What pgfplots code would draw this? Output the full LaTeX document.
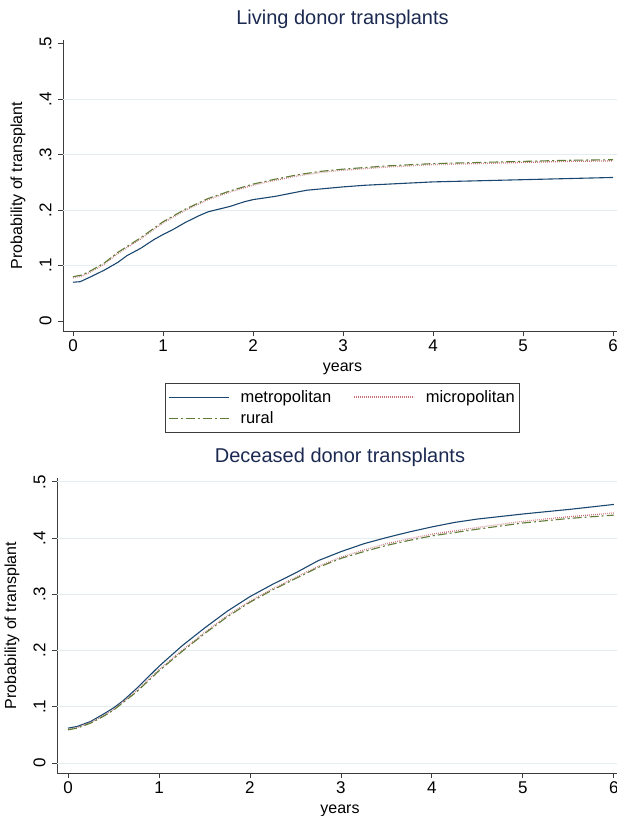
\documentclass[border=0pt]{standalone}
\usepackage{pgfplots}
\pgfplotsset{compat=1.18}
\usepackage{fontspec}
\setmainfont{Liberation Sans}
\definecolor{snavy}{RGB}{26,71,111}
\definecolor{smaroon}{RGB}{200,110,120}
\definecolor{sgreen}{RGB}{95,125,55}
\definecolor{stitle}{RGB}{28,42,82}
\definecolor{sgrid}{RGB}{228,238,241}
\definecolor{saxis}{RGB}{60,60,60}
\pgfplotsset{
  stataax/.style={
    scale only axis,
    /pgf/number format/assume math mode=true,
    axis x line=bottom, axis y line=left,
    axis line style={-, saxis, line width=0.9pt},
    tick style={saxis, line width=0.9pt},
    tick align=outside, major tick length=5pt,
    xtick={0,1,2,3,4,5,6},
    ytick={0,0.1,0.2,0.3,0.4,0.5},
    yticklabels={0,.1,.2,.3,.4,.5},
    ticklabel style={font=\fontsize{17}{19}\selectfont, black},
    yticklabel style={rotate=90, anchor=south},
    yticklabel shift=3pt,
    label style={font=\fontsize{16}{18}\selectfont, black},
    xlabel={years}, ylabel={Probability of transplant},
    xlabel style={yshift=-4pt},
    ylabel style={yshift=-4pt},
    title style={font=\fontsize{20}{22}\selectfont, text=stitle, yshift=2pt},
    extra y ticks={0.1,0.2,0.3,0.4},
    extra y tick labels={},
    extra y tick style={ymajorgrids=true, major tick length=0pt, grid style={sgrid, line width=1pt}},
    clip=false,
  },
  metro/.style={snavy, line width=1.1pt},
  micro/.style={smaroon, line width=1.3pt, dash pattern=on 0.7pt off 1.3pt},
  rural/.style={sgreen, line width=1.1pt, dash pattern=on 9pt off 3pt on 2pt off 3pt},
}
\begin{document}
\begin{tikzpicture}
\path[use as bounding box] (0,0) rectangle (617pt,-816pt);
% ---------------- top panel
\begin{axis}[stataax,
  at={(63pt,-331pt)}, anchor=south west,
  width=559pt, height=291pt,
  xmin=-0.111, xmax=6.1, ymin=-0.018, ymax=0.507,
  title={Living donor transplants},
  legend columns=2,
  legend style={at={(0.1825,-0.1787)}, anchor=north west, draw=saxis, line width=0.8pt,
    font=\fontsize{16.5}{18}\selectfont, inner xsep=3pt, inner ysep=5pt,
    row sep=4pt,
    /tikz/every odd column/.append style={column sep=9pt}},
  legend cell align=left,
  legend image code/.code={\draw[#1] (0pt,0pt) -- (60pt,0pt);},
]
\addplot[metro] coordinates {
(0,0.070) (0.08,0.071) (0.2,0.080) (0.35,0.092) (0.5,0.106) (0.6,0.118) (0.75,0.131)
(0.9,0.147) (1.0,0.156) (1.1,0.164) (1.25,0.178) (1.4,0.190) (1.5,0.197) (1.75,0.207)
(1.9,0.215) (2.0,0.219) (2.25,0.225) (2.5,0.233) (2.6,0.236) (2.8,0.239) (3.0,0.242)
(3.25,0.245) (3.5,0.247) (3.75,0.249) (4.0,0.251) (4.5,0.253) (5.0,0.255) (5.5,0.257) (6.0,0.259)};
\addlegendentry{\makebox[111pt][l]{metropolitan}}
\addplot[micro] coordinates {
(0,0.078) (0.1,0.081) (0.2,0.089) (0.35,0.103) (0.5,0.122) (0.75,0.148) (1.0,0.177)
(1.25,0.200) (1.5,0.219) (1.75,0.233) (2.0,0.245) (2.25,0.254) (2.5,0.262) (2.75,0.268)
(3.0,0.272) (3.25,0.275) (3.5,0.278) (4.0,0.282) (4.5,0.284) (5.0,0.286) (5.5,0.288) (6.0,0.289)};
\addlegendentry{micropolitan}
\addplot[rural] coordinates {
(0,0.080) (0.1,0.083) (0.2,0.091) (0.35,0.105) (0.5,0.124) (0.75,0.150) (1.0,0.179)
(1.25,0.202) (1.5,0.221) (1.75,0.235) (2.0,0.247) (2.25,0.256) (2.5,0.264) (2.75,0.270)
(3.0,0.274) (3.25,0.277) (3.5,0.280) (4.0,0.284) (4.5,0.286) (5.0,0.288) (5.5,0.290) (6.0,0.291)};
\addlegendentry{rural}
\end{axis}
% ---------------- bottom panel
\begin{axis}[stataax,
  at={(57pt,-773pt)}, anchor=south west,
  width=566pt, height=295pt,
  xmin=-0.121, xmax=6.1, ymin=-0.0178, ymax=0.507,
  extra y ticks={0,0.1,0.2,0.3,0.4,0.5},
  title={Deceased donor transplants},
]
\addplot[metro] coordinates {
(0,0.062) (0.1,0.065) (0.25,0.074) (0.4,0.088) (0.5,0.098) (0.6,0.110) (0.75,0.132)
(1.0,0.172) (1.25,0.208) (1.5,0.240) (1.75,0.270) (2.0,0.296) (2.25,0.318) (2.5,0.338)
(2.75,0.360) (3.0,0.376) (3.25,0.390) (3.5,0.401) (3.75,0.411) (4.0,0.420) (4.25,0.428)
(4.5,0.434) (5.0,0.443) (5.5,0.451) (6.0,0.460)};
\addplot[micro] coordinates {
(0,0.060) (0.1,0.063) (0.25,0.072) (0.4,0.085) (0.5,0.095) (0.75,0.128) (1.0,0.166)
(1.25,0.200) (1.5,0.232) (1.75,0.262) (2.0,0.288) (2.25,0.310) (2.5,0.330) (2.75,0.350)
(3.0,0.366) (3.25,0.379) (3.5,0.390) (3.75,0.399) (4.0,0.407) (4.5,0.419) (5.0,0.430)
(5.5,0.438) (6.0,0.445)};
\addplot[rural] coordinates {
(0,0.059) (0.1,0.062) (0.25,0.071) (0.4,0.084) (0.5,0.094) (0.75,0.126) (1.0,0.164)
(1.25,0.198) (1.5,0.230) (1.75,0.260) (2.0,0.286) (2.25,0.308) (2.5,0.328) (2.75,0.348)
(3.0,0.364) (3.25,0.376) (3.5,0.387) (3.75,0.396) (4.0,0.404) (4.5,0.416) (5.0,0.427)
(5.5,0.435) (6.0,0.441)};
\end{axis}
\end{tikzpicture}
\end{document}
